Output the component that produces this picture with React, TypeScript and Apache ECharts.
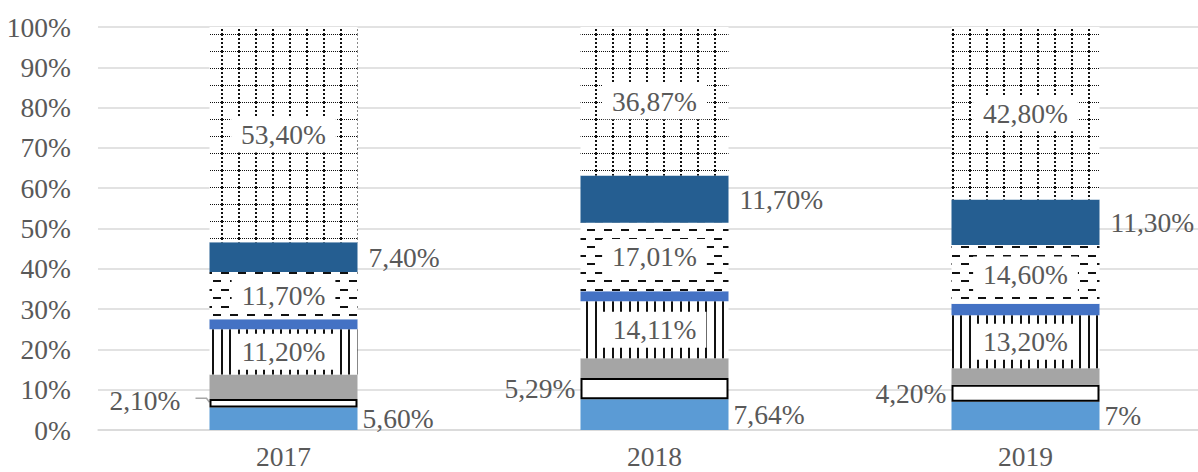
import React, { useEffect, useRef } from 'react';
import * as echarts from 'echarts';

const categories = ['2017', '2018', '2019'];
const yTickMax = 100;
const yTickStep = 10;

const lightBlue = [5.6, 7.64, 7];
const whiteBox = [2.1, 5.29, 4.2];
const gray = [6.1, 4.9, 4.1];
const vertical = [11.2, 14.11, 13.2];
const mediumBlue = [2.5, 2.5, 2.8];
const dashed = [11.7, 17.01, 14.6];
const darkBlue = [7.4, 11.7, 11.3];
const dotted = [53.4, 36.87, 42.8];

const FONT = '"Liberation Serif", "Times New Roman", serif';
const TEXT = '#595959';
const BAR_W = 148;

function fmt(v: number): string {
  return Number.isInteger(v) ? `${v}%` : v.toFixed(2).replace('.', ',') + '%';
}

function makePattern(draw: (ctx: CanvasRenderingContext2D) => void) {
  const c = document.createElement('canvas');
  c.width = 17;
  c.height = 17;
  const ctx = c.getContext('2d') as CanvasRenderingContext2D;
  ctx.fillStyle = '#ffffff';
  ctx.fillRect(0, 0, 17, 17);
  ctx.fillStyle = '#111111';
  draw(ctx);
  return { image: c, repeat: 'repeat', imageWidth: 17, imageHeight: 17 } as any;
}

export default function App() {
  const ref = useRef<HTMLDivElement>(null);

  useEffect(() => {
    if (!ref.current) return;
    const chart = echarts.init(ref.current, undefined, { renderer: 'svg' });

    const dottedGrid = makePattern((ctx) => {
      for (let x = 0; x < 17; x += 2) ctx.fillRect(x, 0, 1, 1);
      for (let y = 0; y < 17; y += 4) ctx.fillRect(0, y, 2, 2);
    });
    const verticalLines = makePattern((ctx) => {
      ctx.fillRect(0, 0, 2, 17);
      ctx.fillRect(8, 0, 2, 17);
    });
    const dashedHoriz = makePattern((ctx) => {
      ctx.fillRect(0, 0, 8, 2);
      ctx.fillRect(9, 8, 8, 2);
    });

    const labelFont = { fontFamily: FONT, fontSize: 27.5, color: TEXT };
    const boxLabel = {
      show: true,
      position: 'inside',
      ...labelFont,
      backgroundColor: '#ffffff',
      padding: [4, 10],
      formatter: (p: any) => fmt(p.value),
    };
    const base = { type: 'bar', stack: 'total', barWidth: BAR_W };

    const option: any = {
      animation: false,
      backgroundColor: '#ffffff',
      grid: { left: 98, top: 27, width: 1113, height: 403, containLabel: false },
      xAxis: {
        type: 'category',
        data: categories,
        axisTick: { show: false },
        axisLine: { lineStyle: { color: '#d9d9d9', width: 1.5 } },
        axisLabel: { ...labelFont, margin: 12 },
      },
      yAxis: {
        type: 'value',
        min: 0,
        max: yTickMax,
        interval: yTickStep,
        axisLine: { show: false },
        axisTick: { show: false },
        axisLabel: { ...labelFont, margin: 27, formatter: '{value}%' },
        splitLine: { lineStyle: { color: '#d9d9d9', width: 1.5 } },
      },
      series: [
        {
          ...base,
          name: 'a',
          data: lightBlue,
          itemStyle: { color: '#5B9BD5' },
          label: { show: true, position: 'right', distance: 5, ...labelFont, formatter: (p: any) => fmt(p.value) },
        },
        {
          ...base,
          name: 'b',
          data: whiteBox,
          itemStyle: { color: '#ffffff', borderColor: '#000000', borderWidth: 2 },
          label: { show: true, position: 'left', distance: 5, ...labelFont, formatter: (p: any) => fmt(p.value) },
          labelLayout: (params: any) => (params.dataIndex === 0 ? { dx: -24, dy: -3 } : {}),
        },
        {
          ...base,
          name: 'c',
          data: gray,
          itemStyle: { color: '#A5A5A5' },
        },
        {
          ...base,
          name: 'd',
          data: vertical,
          itemStyle: { color: verticalLines },
          label: boxLabel,
        },
        {
          ...base,
          name: 'e',
          data: mediumBlue,
          itemStyle: { color: '#4472C4' },
        },
        {
          ...base,
          name: 'f',
          data: dashed,
          itemStyle: { color: dashedHoriz },
          label: boxLabel,
        },
        {
          ...base,
          name: 'g',
          data: darkBlue,
          itemStyle: { color: '#255E91' },
          label: { show: true, position: 'right', distance: 11, ...labelFont, formatter: (p: any) => fmt(p.value) },
        },
        {
          ...base,
          name: 'h',
          data: dotted,
          itemStyle: { color: dottedGrid },
          label: boxLabel,
        },
      ],
    };

    chart.setOption(option);

    // leader line for the moved 2017 label of the white segment
    const mid = lightBlue[0] + whiteBox[0] / 2;
    const p = chart.convertToPixel({ gridIndex: 0 }, [categories[0], mid]) as number[];
    if (p) {
      const xl = p[0] - BAR_W / 2;
      const y = p[1];
      chart.setOption({
        graphic: [
          {
            type: 'polyline',
            shape: { points: [[xl - 14, y - 5], [xl - 3, y - 5], [xl, y - 1]] },
            style: { stroke: '#a6a6a6', lineWidth: 1.5, fill: 'none' },
            silent: true,
          },
        ],
      });
    }

    return () => chart.dispose();
  }, []);

  return (
    <div style={{ position: 'absolute', left: 0, top: 0, width: 1198, height: 472, overflow: 'hidden' }}>
      <div ref={ref} style={{ width: 1215, height: 472 }} />
    </div>
  );
}
